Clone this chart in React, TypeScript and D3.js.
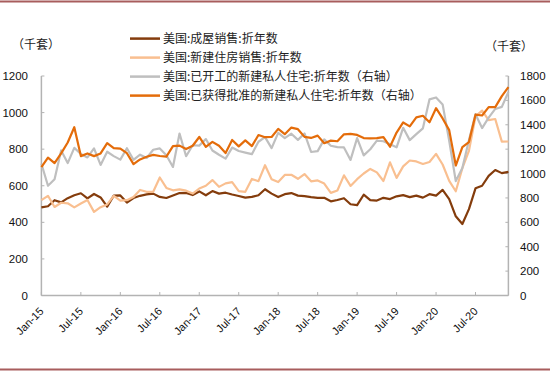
import React from "react";
import * as d3 from "d3";

const months: string[] = (() => {
  const out: string[] = [];
  const names = ["Jan", "Feb", "Mar", "Apr", "May", "Jun", "Jul", "Aug", "Sep", "Oct", "Nov", "Dec"];
  for (let y = 15; y <= 20; y++) for (let m = 0; m < 12; m++) out.push(`${names[m]}-${y}`);
  return out;
})();

const tickLabels = ["Jan-15", "Jul-15", "Jan-16", "Jul-16", "Jan-17", "Jul-17", "Jan-18", "Jul-18", "Jan-19", "Jul-19", "Jan-20", "Jul-20"];

const seriesNames = [
  "美国:成屋销售:折年数",
  "美国:新建住房销售:折年数",
  "美国:已开工的新建私人住宅:折年数（右轴）",
  "美国:已获得批准的新建私人住宅:折年数（右轴）",
];

const existingSales = [
  482, 488, 521, 509, 532, 548, 559, 531, 555, 536, 486, 546,
  547, 508, 533, 545, 553, 557, 539, 533, 547, 560, 561, 549,
  569, 548, 571, 557, 562, 552, 544, 535, 539, 548, 581, 557,
  538, 554, 560, 546, 543, 538, 534, 534, 515, 522, 532, 499,
  494, 551, 521, 519, 534, 527, 542, 549, 538, 546, 535, 554,
  546, 577, 527, 433, 391, 472, 586, 600, 654, 686, 669, 676,
];

const newSales = [
  521, 545, 484, 507, 504, 482, 503, 522, 457, 483, 498, 545,
  519, 521, 538, 577, 567, 567, 645, 588, 575, 580, 573, 557,
  585, 600, 631, 594, 613, 620, 571, 567, 637, 625, 712, 636,
  620, 659, 660, 638, 664, 624, 629, 612, 561, 574, 657, 599,
  636, 667, 692, 673, 626, 728, 643, 706, 738, 733, 719, 730,
  774, 716, 627, 570, 696, 791, 979, 1011, 959, 965, 841, 842,
];

const starts = [
  1080, 900, 954, 1190, 1086, 1211, 1161, 1132, 1207, 1071, 1179, 1143,
  1114, 1208, 1113, 1155, 1128, 1195, 1206, 1150, 1054, 1328, 1142, 1232,
  1229, 1283, 1189, 1154, 1122, 1213, 1185, 1172, 1159, 1261, 1299, 1209,
  1334, 1290, 1327, 1276, 1329, 1177, 1184, 1280, 1228, 1217, 1214, 1112,
  1291, 1149, 1199, 1270, 1265, 1241, 1215, 1375, 1274, 1323, 1371, 1608,
  1624, 1567, 1269, 938, 1046, 1273, 1487, 1373, 1459, 1530, 1547, 1669,
];

const permits = [
  1053, 1130, 1086, 1165, 1255, 1380, 1143, 1165, 1143, 1165, 1250, 1209,
  1204, 1167, 1077, 1116, 1138, 1153, 1144, 1139, 1225, 1229, 1201, 1228,
  1300, 1219, 1260, 1228, 1168, 1275, 1223, 1272, 1225, 1316, 1298, 1300,
  1366, 1323, 1377, 1364, 1301, 1292, 1311, 1249, 1270, 1265, 1322, 1326,
  1317, 1291, 1288, 1290, 1299, 1220, 1336, 1419, 1387, 1461, 1474, 1420,
  1536, 1452, 1356, 1066, 1216, 1258, 1483, 1476, 1545, 1545, 1635, 1709,
];

const leftTicks = [0, 200, 400, 600, 800, 1000, 1200];
const rightTicks = [0, 200, 400, 600, 800, 1000, 1200, 1400, 1600, 1800];

const colors = ["#843c0c", "#f9bf90", "#bfbfbf", "#e46c0a"];

const W = 550;
const H = 371;
const L = 41.4;
const R = 508.4;
const T = 76;
const B = 295.5;

export default function App() {
  const x = d3.scalePoint<string>().domain(months).range([L, R]);
  const yL = d3.scaleLinear().domain([0, 1200]).range([B, T]);
  const yR = d3.scaleLinear().domain([0, 1800]).range([B, T]);

  const mk = (scale: d3.ScaleLinear<number, number>) =>
    d3
      .line<number>()
      .x((_, i) => x(months[i]) as number)
      .y((d) => scale(d));

  const series = [
    { data: existingSales, scale: yL },
    { data: newSales, scale: yL },
    { data: starts, scale: yR },
    { data: permits, scale: yR },
  ];

  const numFont = "'Liberation Sans', Arial, sans-serif";
  const cjkFont = "'Noto Sans CJK SC', sans-serif";
  const axisColor = "#b3b3b3";

  return (
    <svg width={W} height={H} style={{ position: "absolute", left: 0, top: 0, background: "#fff" }}>
      <rect x={0} y={0} width={W} height={H} fill="#fff" />
      <line x1={0} x2={W} y1={1.5} y2={1.5} stroke="#a85d5d" strokeWidth={2} />
      <line x1={0} x2={W} y1={369.5} y2={369.5} stroke="#a85d5d" strokeWidth={2} />

      {/* unit labels */}
      <text x={12} y={48.5} fontFamily={cjkFont} fontSize={12} fill="#222">（千套）</text>
      <text x={485} y={51} fontFamily={cjkFont} fontSize={12} fill="#222">（千套）</text>

      {/* axes */}
      <line x1={L} x2={L} y1={T} y2={B} stroke={axisColor} strokeWidth={1.5} />
      <line x1={R} x2={R} y1={T} y2={B} stroke={axisColor} strokeWidth={1.5} />
      <line x1={L} x2={R} y1={B} y2={B} stroke={axisColor} strokeWidth={1.5} />

      {leftTicks.map((t) => (
        <g key={"l" + t}>
          <line x1={L} x2={L + 3} y1={yL(t)} y2={yL(t)} stroke={axisColor} strokeWidth={1} />
          <text x={28} y={yL(t) + 4} textAnchor="end" fontFamily={numFont} fontSize={11.5} fill="#111">
            {t}
          </text>
        </g>
      ))}
      {rightTicks.map((t) => (
        <g key={"r" + t}>
          <line x1={R - 3} x2={R} y1={yR(t)} y2={yR(t)} stroke={axisColor} strokeWidth={1} />
          <text x={520} y={yR(t) + 4} textAnchor="start" fontFamily={numFont} fontSize={11.5} fill="#111">
            {t}
          </text>
        </g>
      ))}
      {tickLabels.map((lab) => {
        const px = x(lab) as number;
        return (
          <g key={lab}>
            <line x1={px} x2={px} y1={B} y2={B - 3.5} stroke={axisColor} strokeWidth={1} />
            <text
              transform={`translate(${px + 3},${312}) rotate(-45)`}
              textAnchor="end"
              fontFamily={numFont}
              fontSize={11}
              fill="#111"
            >
              {lab}
            </text>
          </g>
        );
      })}

      {/* lines */}
      {series.map((s, i) => (
        <path
          key={i}
          d={mk(s.scale)(s.data) as string}
          fill="none"
          stroke={colors[i]}
          strokeWidth={2.2}
          strokeLinejoin="round"
        />
      ))}

      {/* legend */}
      {seriesNames.map((n, i) => {
        const cy = 38.6 + i * 19;
        return (
          <g key={n}>
            <line x1={130} x2={160} y1={cy} y2={cy} stroke={colors[i]} strokeWidth={2.5} />
            <text x={163} y={cy + 4.3} fontFamily={cjkFont} fontSize={12} fill="#222">
              {n}
            </text>
          </g>
        );
      })}
    </svg>
  );
}
